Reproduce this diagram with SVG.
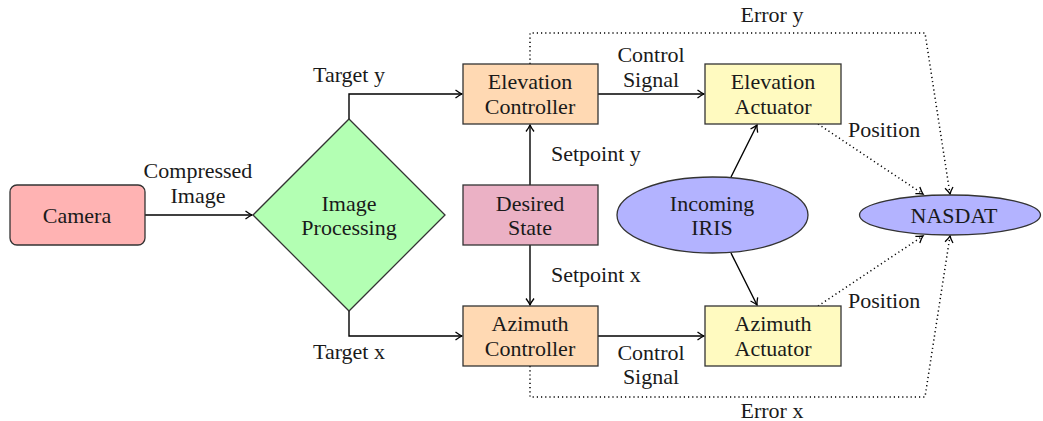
<svg xmlns="http://www.w3.org/2000/svg" width="1043" height="421" viewBox="0 0 1043 421">
<defs>
<marker id="ah" viewBox="-8 -5 10 10" refX="0" refY="0" markerWidth="10" markerHeight="10" markerUnits="userSpaceOnUse" orient="auto">
<path d="M-6.5,-4 Q-2.5,-1 0,0 Q-2.5,1 -6.5,4" fill="none" stroke="#000" stroke-width="1.3"/>
</marker>
</defs>
<g font-family="Liberation Serif" font-size="22" fill="#1a1a1a" text-anchor="middle">
<g id="connectors">
<g fill="none" stroke="#000" stroke-width="1.4" marker-end="url(#ah)">
<path d="M145,215 H252"/>
<path d="M349,119 V94 H462"/>
<path d="M349,311 V336 H462"/>
<path d="M530,185 V125"/>
<path d="M530,245 V305"/>
<path d="M598,94 H704"/>
<path d="M598,336 H704"/>
<path d="M731,177 L757,125"/>
<path d="M731,253 L757,305"/>
</g>
<g fill="none" stroke="#000" stroke-width="1.5" stroke-dasharray="1.2 3" marker-end="url(#ah)">
<path d="M818,124 L923,194"/>
<path d="M818,306 L923,236"/>
<path d="M530,64 V33 H925 L950,194"/>
<path d="M530,366 V397 H925 L950,236"/>
</g>
<text x="198" y="178">Compressed</text>
<text x="198" y="203">Image</text>
<text x="349" y="82">Target y</text>
<text x="349" y="359">Target x</text>
<text text-anchor="start" x="551" y="161">Setpoint y</text>
<text text-anchor="start" x="551" y="282">Setpoint x</text>
<text x="651" y="62">Control</text>
<text x="651" y="87">Signal</text>
<text x="651" y="360">Control</text>
<text x="651" y="384">Signal</text>
<text text-anchor="start" x="848" y="137">Position</text>
<text text-anchor="start" x="848" y="308">Position</text>
<text x="772" y="22">Error y</text>
<text x="772" y="418">Error x</text>
</g>
<g id="camera">
<rect x="10" y="185" width="135" height="60" rx="7" fill="#FFB3B3" stroke="#333" stroke-width="1.3"/>
<text x="77" y="223">Camera</text>
</g>
<g id="image-processing">
<polygon points="349,119 445,215 349,311 253,215" fill="#B3FFB3" stroke="#333" stroke-width="1.3"/>
<text x="349" y="211">Image</text>
<text x="349" y="235">Processing</text>
</g>
<g id="elevation-controller">
<rect x="463" y="64" width="135" height="60" fill="#FFD9B3" stroke="#333" stroke-width="1.3"/>
<text x="530" y="89">Elevation</text>
<text x="530" y="114">Controller</text>
</g>
<g id="desired-state">
<rect x="463" y="185" width="135" height="60" fill="#EBB1C5" stroke="#333" stroke-width="1.3"/>
<text x="530" y="211">Desired</text>
<text x="530" y="235">State</text>
</g>
<g id="azimuth-controller">
<rect x="463" y="306" width="135" height="60" fill="#FFD9B3" stroke="#333" stroke-width="1.3"/>
<text x="530" y="331">Azimuth</text>
<text x="530" y="356">Controller</text>
</g>
<g id="elevation-actuator">
<rect x="705" y="64" width="136" height="60" fill="#FFFAC0" stroke="#333" stroke-width="1.3"/>
<text x="773" y="89">Elevation</text>
<text x="773" y="114">Actuator</text>
</g>
<g id="azimuth-actuator">
<rect x="705" y="306" width="136" height="60" fill="#FFFAC0" stroke="#333" stroke-width="1.3"/>
<text x="773" y="331">Azimuth</text>
<text x="773" y="356">Actuator</text>
</g>
<g id="incoming-iris">
<ellipse cx="712.5" cy="215" rx="95.5" ry="38" fill="#B3B3FF" stroke="#333" stroke-width="1.3"/>
<text x="712" y="211">Incoming</text>
<text x="712" y="235">IRIS</text>
</g>
<g id="nasdat">
<ellipse cx="950" cy="215" rx="90.5" ry="20" fill="#B3B3FF" stroke="#333" stroke-width="1.3"/>
<text x="954" y="223">NASDAT</text>
</g>
</g>
</svg>
